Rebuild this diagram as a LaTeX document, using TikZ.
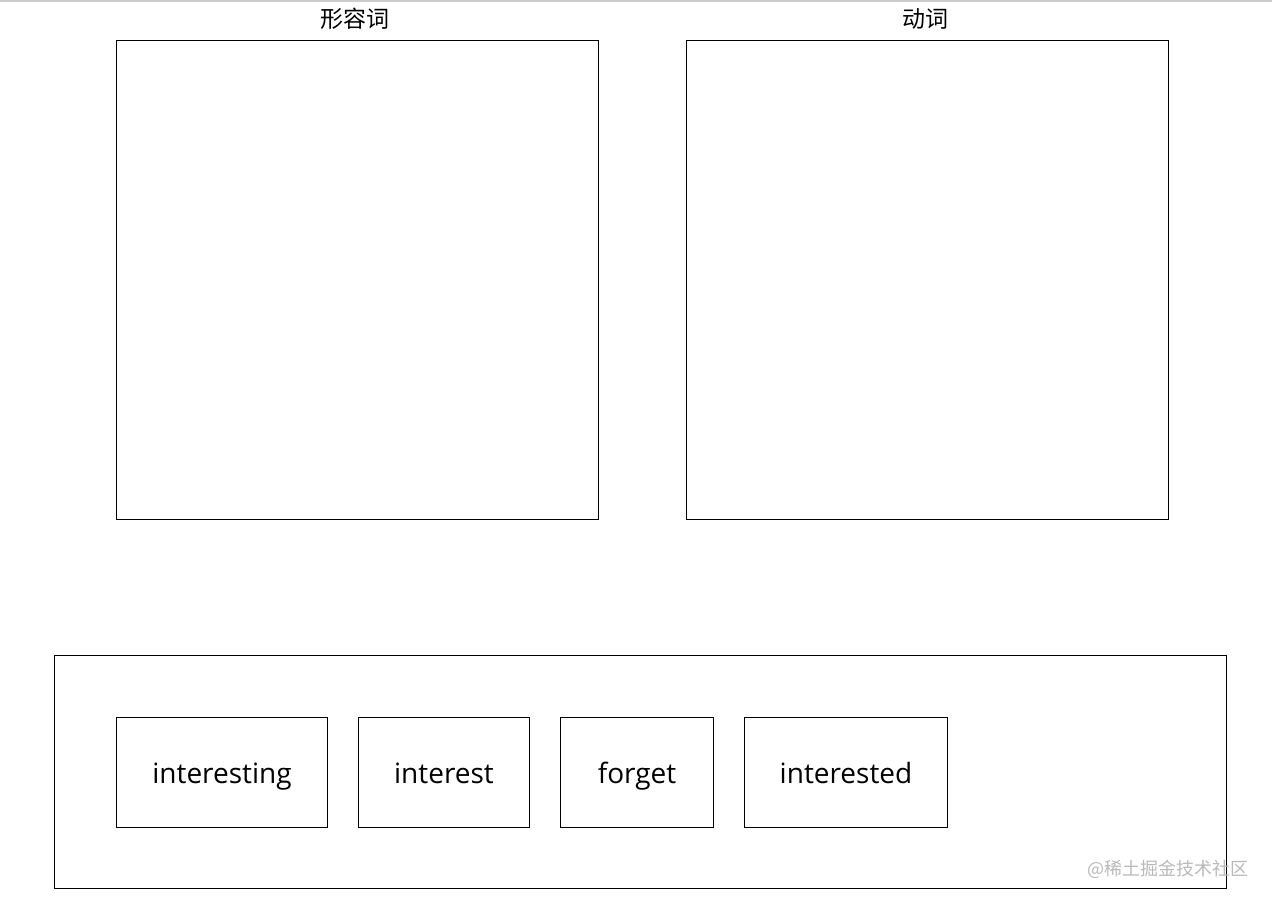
\documentclass[tikz,border=0pt]{standalone}
\usepackage{fontspec}
\setmainfont{Open Sans}
\newfontfamily\cjk{Noto Sans CJK SC}
\begin{document}
\begin{tikzpicture}[x=1pt,y=-1pt,
  frame/.style={draw=black,line width=1pt},
  word/.style={draw=black,line width=1pt,minimum height=110pt,inner sep=0pt,text height=24pt,text depth=2pt,font=\fontsize{28}{32}\selectfont,anchor=north west},
  title/.style={font=\cjk\fontsize{23}{26}\selectfont}]
\useasboundingbox (0,0) rectangle (1272,903);
\draw[gray!40,line width=2pt] (0,1) -- (1272,1);
\draw[frame] (116,40) rectangle (598,519);
\draw[frame] (686,40) rectangle (1168,519);
\node[title] (adj) at (355,19) {形容词};
\node[title] (verb) at (925,19) {动词};
\draw[frame] (54,655) rectangle (1226,888);
\node[word,minimum width=211pt] (w1) at (116,717) {interesting};
\node[word,minimum width=171pt] (w2) at (358,717) {interest};
\node[word,minimum width=153pt] (w3) at (560,717) {forget};
\node[word,minimum width=203pt] (w4) at (744,717) {interested};
\node[font=\cjk\fontsize{18}{20}\selectfont,text=gray!55] (wm) at (1168,869) {@稀土掘金技术社区};
\end{tikzpicture}
\end{document}
